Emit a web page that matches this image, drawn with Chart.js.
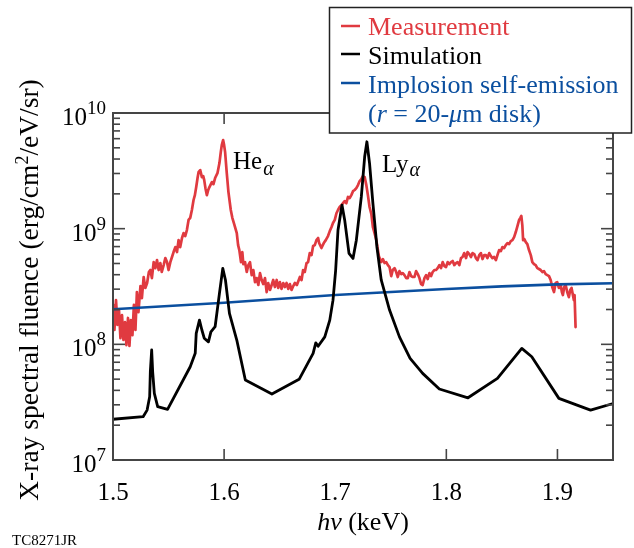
<!DOCTYPE html>
<html><head><meta charset="utf-8">
<script src="https://cdn.jsdelivr.net/npm/chart.js@4/dist/chart.umd.min.js"></script>
<style>html,body{margin:0;padding:0;background:#fff;}canvas{display:block;}</style>
</head><body>
<canvas id="c" width="634" height="548"></canvas>
<script>
// ---- data (hv in keV, fluence in erg/cm^2/eV/sr) ----
const measEnergy = [1.5002,1.5013,1.5027,1.5040,1.5054,1.5067,1.5081,1.5094,1.5108,1.5121,1.5135,1.5148,1.5161,1.5175,1.5188,1.5202,1.5215,1.5229,1.5247,1.5260,
1.5276,1.5291,1.5307,1.5323,1.5336,1.5350,1.5366,1.5381,1.5396,1.5411,1.5426,1.5439,1.5456,1.5471,1.5486,1.5500,1.5516,1.5531,1.5545,1.5561,
1.5576,1.5590,1.5605,1.5621,1.5635,1.5650,1.5665,1.5680,1.5695,1.5710,1.5725,1.5737,1.5749,1.5761,1.5770,1.5785,1.5800,1.5812,1.5821,1.5832,
1.5845,1.5857,1.5868,1.5890,1.5904,1.5919,1.5940,1.5958,1.5970,1.5979,1.5991,1.6000,1.6009,1.6024,1.6039,1.6060,1.6074,1.6090,1.6114,1.6126,
1.6137,1.6152,1.6164,1.6173,1.6188,1.6204,1.6218,1.6233,1.6248,1.6263,1.6278,1.6293,1.6308,1.6323,1.6338,1.6352,1.6368,1.6383,1.6397,1.6413,
1.6428,1.6442,1.6457,1.6473,1.6487,1.6502,1.6517,1.6532,1.6547,1.6562,1.6577,1.6592,1.6607,1.6622,1.6637,1.6655,1.6682,1.6697,1.6711,1.6726,
1.6742,1.6756,1.6771,1.6787,1.6801,1.6816,1.6831,1.6846,1.6855,1.6876,1.6888,1.6897,1.6915,1.6935,1.6951,1.6966,1.6980,1.6996,1.7011,1.7025,
1.7040,1.7056,1.7070,1.7085,1.7100,1.7115,1.7130,1.7145,1.7160,1.7175,1.7190,1.7205,1.7220,1.7235,1.7249,1.7265,1.7280,1.7294,1.7309,1.7325,
1.7339,1.7354,1.7370,1.7381,1.7393,1.7414,1.7429,1.7444,1.7459,1.7474,1.7489,1.7504,1.7518,1.7534,1.7549,1.7563,1.7578,1.7594,1.7608,1.7623,
1.7639,1.7653,1.7668,1.7683,1.7698,1.7713,1.7728,1.7743,1.7758,1.7773,1.7787,1.7803,1.7818,1.7832,1.7848,1.7863,1.7877,1.7892,1.7908,1.7922,
1.7937,1.7952,1.7967,1.7982,1.7997,1.8012,1.8027,1.8042,1.8057,1.8072,1.8087,1.8101,1.8117,1.8132,1.8146,1.8161,1.8177,1.8191,1.8206,1.8222,
1.8236,1.8251,1.8266,1.8281,1.8296,1.8311,1.8326,1.8341,1.8356,1.8370,1.8386,1.8401,1.8415,1.8430,1.8446,1.8460,1.8475,1.8491,1.8505,1.8520,
1.8535,1.8550,1.8565,1.8580,1.8595,1.8610,1.8625,1.8640,1.8655,1.8666,1.8675,1.8684,1.8691,1.8702,1.8715,1.8729,1.8744,1.8760,1.8774,1.8789,
1.8804,1.8819,1.8834,1.8849,1.8864,1.8879,1.8894,1.8909,1.8924,1.8939,1.8953,1.8969,1.8984,1.8998,1.9013,1.9029,1.9040,1.9049,1.9061,1.9074,
1.9088,1.9103,1.9115,1.9127,1.9139,1.9148,1.9154,1.9163];
const measFluence = [2.19e8,1.33e8,2.41e8,1.47e8,1.98e8,1.13e8,1.79e8,1.09e8,1.56e8,9.86e7,1.69e8,9.67e7,1.62e8,1.20e8,2.19e8,1.33e8,2.83e8,1.90e8,3.19e8,2.51e8,
3.82e8,3.07e8,3.39e8,4.22e8,4.39e8,3.74e8,5.14e8,4.56e8,5.35e8,4.39e8,5.04e8,4.22e8,4.84e8,5.57e8,5.14e8,4.39e8,5.14e8,5.69e8,6.28e8,6.93e8,
6.28e8,7.96e8,6.93e8,8.30e8,9.16e8,8.63e8,9.72e8,1.19e9,1.24e9,1.45e9,1.77e9,1.95e9,2.29e9,2.74e9,3.08e9,3.21e9,2.79e9,2.85e9,2.63e9,2.24e9,
1.95e9,2.16e9,2.29e9,2.53e9,2.43e9,2.74e9,3.02e9,3.69e9,4.59e9,5.28e9,5.83e9,5.28e9,4.59e9,3.02e9,2.07e9,1.45e9,1.24e9,1.10e9,9.16e8,7.21e8,
6.53e8,5.14e8,6.28e8,4.94e8,5.14e8,4.22e8,4.84e8,5.14e8,3.97e8,4.39e8,3.45e8,3.74e8,3.26e8,4.13e8,3.60e8,3.32e8,3.74e8,2.83e8,3.39e8,2.95e8,
3.26e8,3.60e8,3.13e8,3.60e8,3.07e8,3.45e8,3.01e8,3.39e8,3.13e8,3.39e8,3.01e8,3.32e8,2.95e8,3.19e8,3.39e8,3.26e8,3.82e8,3.60e8,4.39e8,4.22e8,
5.04e8,5.14e8,6.15e8,5.91e8,7.08e8,7.21e8,7.96e8,8.30e8,7.51e8,6.80e8,7.21e8,7.51e8,7.96e8,8.63e8,9.53e8,1.03e9,1.12e9,1.19e9,1.36e9,1.45e9,
1.54e9,1.60e9,1.66e9,1.73e9,1.66e9,1.88e9,1.84e9,1.95e9,2.11e9,2.16e9,2.24e9,2.38e9,2.58e9,2.68e9,2.85e9,2.79e9,2.38e9,1.95e9,1.54e9,1.34e9,
1.03e9,9.16e8,7.96e8,6.80e8,5.79e8,5.14e8,5.46e8,5.04e8,5.14e8,4.84e8,4.66e8,3.89e8,4.39e8,4.56e8,4.22e8,3.82e8,4.30e8,4.05e8,4.13e8,3.97e8,
3.74e8,3.74e8,4.22e8,3.89e8,3.82e8,3.82e8,4.30e8,4.05e8,3.74e8,3.32e8,3.26e8,3.74e8,3.97e8,3.67e8,4.13e8,3.89e8,4.22e8,4.39e8,4.39e8,4.56e8,
4.84e8,4.56e8,5.14e8,4.75e8,4.66e8,5.14e8,4.94e8,5.14e8,5.25e8,4.84e8,5.04e8,5.14e8,4.84e8,5.57e8,5.69e8,6.15e8,5.57e8,6.28e8,6.03e8,5.69e8,
6.15e8,6.03e8,5.57e8,5.35e8,5.91e8,6.15e8,5.46e8,5.91e8,5.91e8,5.57e8,6.15e8,5.79e8,5.57e8,5.69e8,5.35e8,5.91e8,6.53e8,6.40e8,6.93e8,6.80e8,
7.21e8,7.51e8,7.36e8,7.81e8,7.96e8,8.46e8,9.35e8,1.05e9,1.19e9,1.24e9,1.29e9,1.07e9,7.96e8,8.13e8,7.66e8,7.36e8,6.53e8,5.91e8,5.14e8,4.94e8,
4.84e8,4.56e8,4.48e8,4.39e8,4.22e8,4.30e8,4.05e8,3.97e8,3.89e8,3.60e8,3.13e8,2.83e8,3.39e8,3.45e8,3.07e8,3.26e8,2.83e8,2.67e8,3.13e8,3.26e8,
2.83e8,2.56e8,2.95e8,3.07e8,2.67e8,2.41e8,2.67e8,1.41e8];

const simEnergy = [1.5000,1.5271,1.5307,1.5330,1.5336,1.5348,1.5357,1.5372,1.5402,1.5491,1.5695,1.5740,1.5749,1.5778,1.5800,1.5821,1.5859,1.5881,1.5919,1.5958,
1.5988,1.6012,1.6048,1.6114,1.6191,1.6430,1.6675,1.6801,1.6825,1.6846,1.6906,1.6951,1.6980,1.7004,1.7025,1.7061,1.7085,1.7124,1.7160,1.7190,
1.7235,1.7265,1.7285,1.7309,1.7339,1.7375,1.7414,1.7489,1.7578,1.7674,1.7787,1.7937,1.8195,1.8460,1.8679,1.8769,1.9013,1.9298,1.9486];
const simFluence = [2.25e7,2.37e7,2.70e7,3.52e7,5.79e7,8.93e7,5.79e7,3.77e7,2.89e7,2.74e7,6.40e7,8.36e7,1.245e8,1.62e8,1.33e8,1.13e8,1.05e8,1.28e8,1.42e8,2.76e8,
4.54e8,3.60e8,1.85e8,1.09e8,4.91e7,3.72e7,4.98e7,8.36e7,1.03e8,9.62e7,1.16e8,1.62e8,2.41e8,4.39e8,9.73e8,1.60e9,1.19e9,6.11e8,5.53e8,7.96e8,
1.89e9,4.18e9,5.64e9,3.67e9,1.66e9,6.98e8,3.60e8,1.98e8,1.16e8,7.57e7,5.61e7,4.11e7,3.45e7,5.08e7,9.23e7,7.81e7,3.41e7,2.70e7,3.05e7];

const selfEnergy = [1.50,1.60,1.70,1.80,1.85,1.90,1.95];
const selfFluence = [2.01e8,2.29e8,2.67e8,3.01e8,3.17e8,3.30e8,3.37e8];

const xTickValues = [1.5,1.6,1.7,1.8,1.9];
const xTickLabels = ['1.5','1.6','1.7','1.8','1.9'];
const yDecades = [7,8,9,10];

const seriesNames = ['Measurement','Simulation','Implosion self-emission'];

// ---- styling ----
const FONT = "'Liberation Serif','Times New Roman',serif";
const RED = '#e03a40', BLACK = '#000000', BLUE = '#0b4f9f', AXIS = '#454545';

function pts(xs, ys){ return xs.map((e,i)=>({x:e, y:ys[i]})); }

const decor = {
  id:'decor',
  afterDraw(chart){
    const ctx = chart.ctx, a = chart.chartArea, sx = chart.scales.x, sy = chart.scales.y;
    ctx.save();
    const line = (x1,y1,x2,y2)=>{ctx.beginPath();ctx.moveTo(x1,y1);ctx.lineTo(x2,y2);ctx.stroke();};
    // frame
    ctx.strokeStyle = AXIS; ctx.lineWidth = 2;
    ctx.strokeRect(a.left, a.top, a.right-a.left, a.bottom-a.top);
    // x ticks (inward)
    ctx.lineWidth = 1.6;
    xTickValues.forEach(v=>{
      const px = sx.getPixelForValue(v);
      if (v !== 1.5 && v !== 1.7) line(px, a.bottom, px, a.bottom-11);
      if (v !== 1.5) line(px, a.top, px, a.top+11);
    });
    // y ticks (log, inward, both sides)
    yDecades.forEach(d=>{
      for (let m=1; m<=9; m++){
        if (d===10 && m>1) break;
        const py = sy.getPixelForValue(m*Math.pow(10,d));
        const len = m===1 ? 12 : 7;
        line(a.left, py, a.left+len, py);
        line(a.right, py, a.right-len, py);
      }
    });
    // x tick labels
    ctx.fillStyle = '#000';
    ctx.font = '25px '+FONT; ctx.textAlign='center'; ctx.textBaseline='alphabetic';
    xTickValues.forEach((v,i)=>{ ctx.fillText(xTickLabels[i], sx.getPixelForValue(v), 500); });
    // y tick labels 10^n
    ctx.textAlign='left';
    yDecades.forEach(d=>{
      const py = sy.getPixelForValue(Math.pow(10,d));
      ctx.font = '25px '+FONT; const wb = ctx.measureText('10').width;
      ctx.font = '19px '+FONT; const we = ctx.measureText(String(d)).width;
      const x0 = 106 - wb - we;
      ctx.font = '25px '+FONT; ctx.fillText('10', x0, py+12);
      ctx.font = '19px '+FONT; ctx.fillText(String(d), x0+wb, py+1);
    });
    // x title: hν (keV)
    ctx.font = 'italic 26px '+FONT; const w1 = ctx.measureText('hν').width;
    ctx.font = '26px '+FONT; const w2 = ctx.measureText(' (keV)').width;
    let xs = 363 - (w1+w2)/2;
    ctx.font = 'italic 26px '+FONT; ctx.fillText('hν', xs, 530);
    ctx.font = '26px '+FONT; ctx.fillText(' (keV)', xs+w1, 530);
    // y title (rotated)
    ctx.save();
    ctx.translate(38, 290); ctx.rotate(-Math.PI/2);
    const p1 = 'X-ray spectral fluence (erg/cm', p2 = '2', p3 = '/eV/sr)';
    ctx.font = '27.5px '+FONT; const a1 = ctx.measureText(p1).width, a3 = ctx.measureText(p3).width;
    ctx.font = '18px '+FONT; const a2 = ctx.measureText(p2).width;
    let tx = -(a1+a2+a3)/2;
    ctx.font = '27.5px '+FONT; ctx.fillText(p1, tx, 0);
    ctx.font = '18px '+FONT; ctx.fillText(p2, tx+a1, -10);
    ctx.font = '27.5px '+FONT; ctx.fillText(p3, tx+a1+a2, 0);
    ctx.restore();
    // line annotations
    ctx.font = '25px '+FONT; ctx.fillText('He', 233, 169);
    let wh = ctx.measureText('He').width;
    ctx.font = 'italic 20px '+FONT; ctx.fillText('α', 233+wh+1, 175);
    ctx.font = '25px '+FONT; ctx.fillText('Ly', 382, 172);
    let wl = ctx.measureText('Ly').width;
    ctx.font = 'italic 20px '+FONT; ctx.fillText('α', 382+wl+1, 176);
    // legend box
    ctx.fillStyle = '#fff'; ctx.fillRect(329, 7, 303, 126);
    ctx.strokeStyle = '#222'; ctx.lineWidth = 1.5; ctx.strokeRect(329.5, 7.5, 302, 125.5);
    const rows = [[RED,26,35],[BLACK,54,63.5],[BLUE,83,92.5]];
    ctx.lineWidth = 2.5;
    rows.forEach((r,i)=>{
      ctx.strokeStyle = r[0]; line(341, r[1], 360, r[1]);
      ctx.fillStyle = r[0]; ctx.font = '26px '+FONT; ctx.fillText(seriesNames[i], 368, r[2]);
    });
    // (r = 20-μm disk)
    ctx.fillStyle = BLUE;
    const segs = [['(',false],['r',true],[' = 20-',false],['μ',true],['m disk)',false]];
    let lx = 368;
    segs.forEach(s=>{
      ctx.font = (s[1]?'italic ':'')+'26px '+FONT;
      ctx.fillText(s[0], lx, 121.5);
      lx += ctx.measureText(s[0]).width;
    });
    // figure id
    ctx.fillStyle = '#000'; ctx.font = '15px '+FONT; ctx.fillText('TC8271JR', 12, 545);
    ctx.restore();
  }
};

new Chart(document.getElementById('c'), {
  type:'line',
  data:{ datasets:[
    {label:seriesNames[1], data:pts(simEnergy, simFluence), borderColor:BLACK, borderWidth:2.8, order:0},
    {label:seriesNames[2], data:pts(selfEnergy, selfFluence), borderColor:BLUE, borderWidth:2.6, order:1},
    {label:seriesNames[0], data:pts(measEnergy, measFluence), borderColor:RED, borderWidth:2.7, order:2}
  ]},
  options:{
    responsive:false, animation:false, devicePixelRatio:1,
    layout:{padding:{left:113, right:21, top:113, bottom:88}},
    elements:{ point:{radius:0}, line:{tension:0, fill:false, borderJoinStyle:'round', borderCapStyle:'round'} },
    scales:{
      x:{type:'linear', min:1.5, max:1.95, display:false},
      y:{type:'logarithmic', min:1e7, max:1e10, display:false}
    },
    plugins:{ legend:{display:false}, tooltip:{enabled:false} }
  },
  plugins:[decor]
});
</script>
</body></html>
